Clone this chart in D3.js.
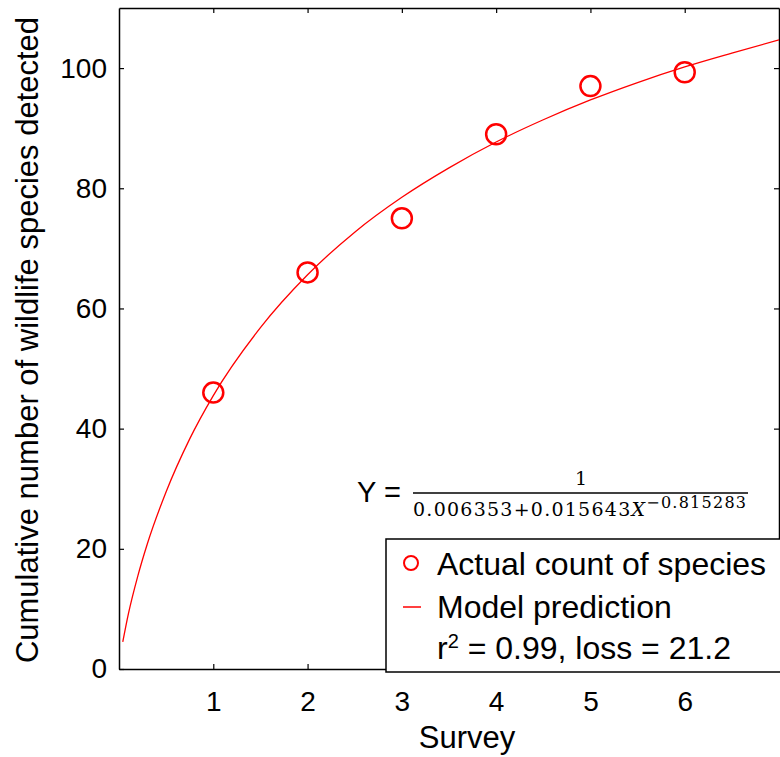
<!DOCTYPE html>
<html>
<head>
<meta charset="utf-8">
<script src="https://cdn.jsdelivr.net/npm/d3@7"></script>
<style>
  body { margin: 0; background: #fff; }
  svg { display: block; font-family: "Liberation Sans", Arial, sans-serif; }
</style>
</head>
<body>
<svg id="chart" width="780" height="757"></svg>
<script>
// survey number vs cumulative species count
const surveys = [1, 2, 3, 4, 5, 6]
const actualCounts = [46, 66, 75, 89, 97, 99.3]

// model curve, values
const modelX = [0.04, 0.1, 0.2, 0.3, 0.5, 0.75, 1, 1.5, 2, 2.5, 3, 3.5, 4, 4.5, 5, 5.5, 6, 6.5, 7]
const modelY = [4.5, 9.2, 15.5, 20.8, 29.5, 38.3, 45.5, 56.8, 65.6, 72.7, 78.5, 83.4, 87.7, 91.4, 94.7, 97.6, 100.2, 102.5, 104.7]

const xTicks = [1, 2, 3, 4, 5, 6]
const yTicks = [0, 20, 40, 60, 80, 100]

const svg = d3.select("#chart")
const pLeft = 119, pRight = 779, pTop = 8, pBottom = 669
const red = "#ff0000"

const x = d3.scaleLinear().domain([0, 7]).range([pLeft, pRight])
const y = d3.scaleLinear().domain([0, 110]).range([pBottom, pTop])

svg.append("defs").append("clipPath").attr("id", "plotclip")
  .append("rect").attr("x", pLeft).attr("y", pTop).attr("width", pRight - pLeft).attr("height", pBottom - pTop)

// axes (ticks point inward, box on all four sides)
const axisStyle = (g) => {
  g.attr("font-family", null)
  g.selectAll("path").attr("stroke", "#000").attr("stroke-width", 1.5)
  g.selectAll("line").attr("stroke", "#000").attr("stroke-width", 1.2)
  g.selectAll("text").attr("font-size", 28).attr("fill", "#000")
}

svg.append("g").attr("transform", `translate(0,${pBottom})`)
  .call(d3.axisBottom(x).tickValues(xTicks).tickFormat(d3.format("d")).tickSizeInner(-5).tickSizeOuter(0).tickPadding(22))
  .call(axisStyle)

svg.append("g").attr("transform", `translate(${pLeft},0)`)
  .call(d3.axisLeft(y).tickValues(yTicks).tickFormat(d3.format("d")).tickSizeInner(-5).tickSizeOuter(0).tickPadding(12))
  .call(axisStyle)

svg.append("g").attr("transform", `translate(0,${pTop})`)
  .call(d3.axisTop(x).tickValues(xTicks).tickSizeInner(-5).tickSizeOuter(0).tickFormat(""))
  .call(axisStyle)

svg.append("g").attr("transform", `translate(${pRight},0)`)
  .call(d3.axisRight(y).tickValues(yTicks).tickSizeInner(-5).tickSizeOuter(0).tickFormat(""))
  .call(axisStyle)

// model line
const line = d3.line().x((d) => x(d[0])).y((d) => y(d[1])).curve(d3.curveMonotoneX)
svg.append("path")
  .datum(modelX.map((v, i) => [v, modelY[i]]))
  .attr("clip-path", "url(#plotclip)")
  .attr("fill", "none")
  .attr("stroke", red)
  .attr("stroke-width", 1.3)
  .attr("d", line)

// actual counts
svg.append("g").selectAll("circle")
  .data(surveys.map((s, i) => [s, actualCounts[i]]))
  .join("circle")
  .attr("cx", (d) => x(d[0]))
  .attr("cy", (d) => y(d[1]))
  .attr("r", 10)
  .attr("fill", "none")
  .attr("stroke", red)
  .attr("stroke-width", 2.5)

// axis titles
svg.append("text")
  .attr("x", 467).attr("y", 748)
  .attr("text-anchor", "middle").attr("font-size", 31)
  .text("Survey")

svg.append("text")
  .attr("transform", "translate(38,340) rotate(-90)")
  .attr("text-anchor", "middle").attr("font-size", 31)
  .text("Cumulative number of wildlife species detected")

// equation
const eq = svg.append("g").attr("font-family", "'DejaVu Serif', serif")
eq.append("text").attr("x", 357).attr("y", 502).attr("font-size", 29)
  .attr("font-family", "'Liberation Sans', Arial, sans-serif").text("Y =")
eq.append("text").attr("x", 581).attr("y", 485).attr("text-anchor", "middle").attr("font-size", 19).text("1")
eq.append("line").attr("x1", 413).attr("x2", 748).attr("y1", 493).attr("y2", 493)
  .attr("stroke", "#000").attr("stroke-width", 1.5)
const den = eq.append("text").attr("x", 413).attr("y", 516).attr("font-size", 19)
  .attr("textLength", 333).attr("lengthAdjust", "spacing")
den.append("tspan").text("0.006353+0.015643")
den.append("tspan").attr("font-style", "italic").text("X")
den.append("tspan").attr("dy", -8).attr("font-size", 16).text("\u22120.815283")

// legend
const lg = svg.append("g")
lg.append("rect").attr("x", 386).attr("y", 539).attr("width", 400).attr("height", 133)
  .attr("fill", "#fff").attr("stroke", "#000").attr("stroke-width", 1.5)
lg.append("circle").attr("cx", 411).attr("cy", 563).attr("r", 7)
  .attr("fill", "none").attr("stroke", red).attr("stroke-width", 2)
lg.append("line").attr("x1", 403).attr("x2", 421).attr("y1", 607).attr("y2", 607)
  .attr("stroke", red).attr("stroke-width", 1.5)
lg.append("text").attr("x", 437).attr("y", 575).attr("font-size", 32).text("Actual count of species")
lg.append("text").attr("x", 437).attr("y", 618).attr("font-size", 32).text("Model prediction")
const r2 = lg.append("text").attr("x", 437).attr("y", 659).attr("font-size", 32)
r2.append("tspan").text("r")
r2.append("tspan").attr("dy", -11).attr("font-size", 20).text("2")
r2.append("tspan").attr("dy", 11).text(" = 0.99, loss = 21.2")
</script>
</body>
</html>
